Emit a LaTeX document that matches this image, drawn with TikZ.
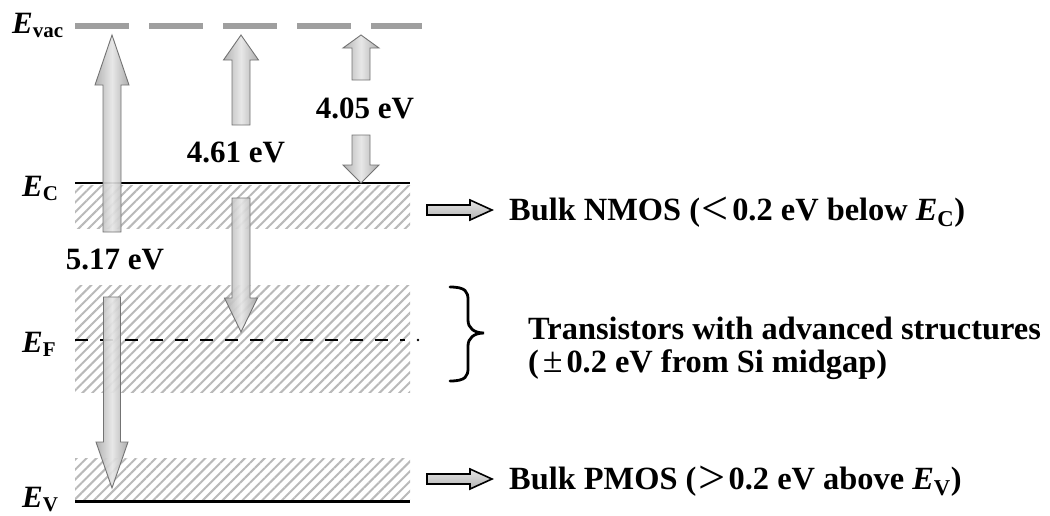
\documentclass[tikz,border=0pt]{standalone}
\usepackage{fontspec}
\setmainfont{Liberation Serif}
\usetikzlibrary{patterns.meta}
\tikzset{
  blockarr/.style={draw=gray!90!black, line width=0.9pt, fill opacity=0.92,
    left color=gray!65, right color=gray!70, middle color=gray!20},
  hollowarr/.style={draw=black, line width=1.6pt,
    top color=gray!20, bottom color=gray!60},
  hatch/.style={pattern={Lines[angle=45,distance=7pt,line width=2pt]}, pattern color=gray!55},
  bigtext/.style={font=\bfseries\fontsize{32.4}{38}\selectfont, inner sep=0pt},
  lbl/.style={font=\bfseries\fontsize{31}{36}\selectfont, inner sep=0pt},
}
% #1 x centre, #2 start y, #3 tip y, #4 shaft half width, #5 head half width, #6 head base y
\newcommand\varr[6]{%
  \path[blockarr] (#1-#4,#2) -- (#1-#4,#6) -- (#1-#5,#6) -- (#1,#3) -- (#1+#5,#6)
     -- (#1+#4,#6) -- (#1+#4,#2) -- cycle;}
% #1 x start, #2 y centre
\newcommand\harr[2]{%
  \path[hollowarr] (#1,#2-5) -- (#1+43,#2-5) -- (#1+43,#2-10) -- (#1+65,#2)
     -- (#1+43,#2+10) -- (#1+43,#2+5) -- (#1,#2+5) -- cycle;}
\newcommand\Elab[1]{{\itshape E}\raisebox{-0.35ex}{\fontsize{21}{21}\selectfont #1}}
\newcommand\relsym[1]{\hspace{0.06em}\raisebox{-0.3ex}{\mdseries\fontsize{48}{48}\selectfont #1}\hspace{0.1em}}
\newcommand\pmsym{\hspace{0.12em}{\mdseries\fontsize{36}{36}\selectfont ±}\hspace{0.12em}}
\begin{document}
\begin{tikzpicture}[x=1pt,y=-1pt]
\useasboundingbox (0,0) rectangle (1050,515);
% hatched bands
\path[hatch] (75,185) rectangle (410,228);
\path[hatch] (75,285) rectangle (410,392);
\path[hatch] (75,458) rectangle (410,499);
% levels
\draw[gray!75, line width=6pt, dash pattern=on 54pt off 20pt] (75,26) -- (422,26);
\draw[black, line width=2.6pt] (75,183) -- (410,183);
\draw[black, line width=2.6pt, dash pattern=on 13pt off 12pt] (75,340) -- (405,340);
\fill[black] (418,340) circle (1.3);
\draw[black, line width=3pt] (75,501) -- (410,501);
% level labels
\node[lbl, anchor=base west] (evac) at (12,33) {\Elab{vac}};
\node[lbl, anchor=base west] (ec) at (22,196) {\Elab{C}};
\node[lbl, anchor=base west] (ef) at (22,352) {\Elab{F}};
\node[lbl, anchor=base west] (ev) at (22,507) {\Elab{V}};
% arrows
\varr{112}{232}{35}{9}{17}{85}
\varr{112}{297}{488}{8.5}{16}{442}
\varr{241}{125}{35}{9}{17.5}{60}
\varr{241}{198}{332}{9}{16.5}{298}
\varr{361}{80}{35}{9}{18}{48}
\varr{361}{135}{183}{9}{18}{165}
\node[lbl] (e517) at (115,259) {5.17 eV};
\node[lbl] (e461) at (236,152) {4.61 eV};
\node[lbl] (e405) at (365,108) {4.05 eV};
% right side
\harr{427}{210}
\harr{427}{479}
\draw[line width=2.8pt, line cap=round]
  (450,287) .. controls (466,287) and (468,292) .. (468,300) -- (468,320)
  .. controls (468,328) and (474,333) .. (484,333)
  .. controls (474,333) and (468,338) .. (468,346) -- (468,368)
  .. controls (468,376) and (466,381) .. (450,381);
\node[bigtext, anchor=west] (nmos) at (509,212) {Bulk NMOS (\relsym{<}0.2 eV below \textit{E}\textsubscript{C})};
\node[bigtext, anchor=west] (tr1) at (528,328) {Transistors with advanced structures};
\node[bigtext, anchor=west] (tr2) at (528,365) {(\pmsym 0.2 eV from Si midgap)};
\node[bigtext, anchor=west] (pmos) at (509,481) {Bulk PMOS (\relsym{>}0.2 eV above \textit{E}\textsubscript{V})};
\end{tikzpicture}
\end{document}
